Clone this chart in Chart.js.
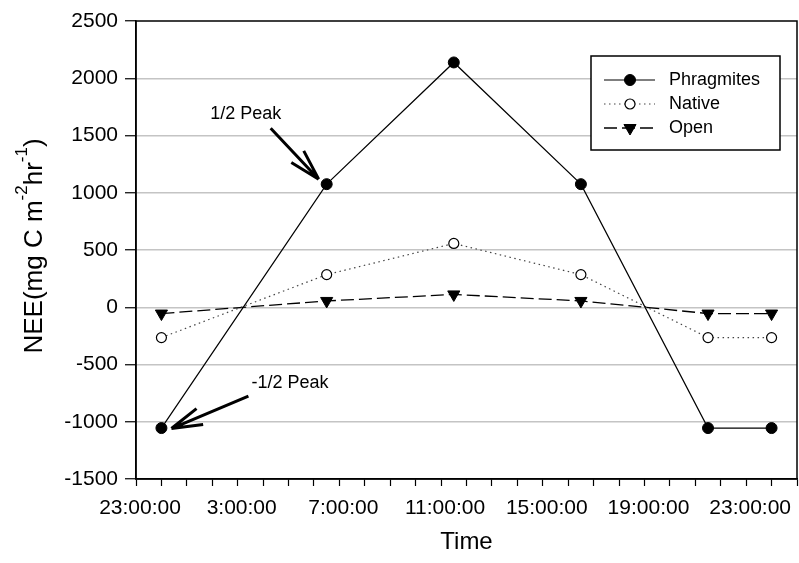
<!DOCTYPE html>
<html>
<head>
<meta charset="utf-8">
<script src="https://cdn.jsdelivr.net/npm/chart.js@4.4.1/dist/chart.umd.min.js"></script>
<style>
  html, body { margin: 0; padding: 0; background: #fff; }
  canvas { display: block; }
</style>
</head>
<body>
<canvas id="neeChart" width="799" height="563"></canvas>
<script>
// horas contadas a partir das 23:00 do primeiro dia
const tempos = [1, 7.5, 12.5, 17.5, 22.5, 25];
const phragmites = [-1055, 1075, 2138, 1075, -1055, -1055];
const nativa = [-265, 285, 557, 285, -265, -265];
const aberta = [-55, 55, 112, 55, -55, -55];
const nomesSeries = ['Phragmites', 'Native', 'Open'];
const rotulosTempo = ['23:00:00', '3:00:00', '7:00:00', '11:00:00', '15:00:00', '19:00:00', '23:00:00'];

const FONTE = '"Liberation Sans", Arial, sans-serif';

const pontos = valores => tempos.map((t, i) => ({ x: t, y: valores[i] }));

// moldura em volta da area do grafico
const moldura = {
    id: 'moldura',
    afterDraw(chart) {
        const { ctx, chartArea: a } = chart;
        ctx.save();
        ctx.strokeStyle = '#000';
        ctx.lineWidth = 1.5;
        ctx.strokeRect(a.left, a.top, a.right - a.left, a.bottom - a.top);
        ctx.restore();
    }
};

// setas "1/2 Peak" e "-1/2 Peak"
function seta(ctx, x0, y0, x1, y1) {
    const ang = Math.atan2(y0 - y1, x0 - x1);
    ctx.beginPath();
    ctx.moveTo(x0, y0);
    ctx.lineTo(x1, y1);
    [-0.27, 0.27].forEach(d => {
        ctx.moveTo(x1, y1);
        ctx.lineTo(x1 + Math.cos(ang + d) * 32, y1 + Math.sin(ang + d) * 32);
    });
    ctx.stroke();
}

const anotacoes = {
    id: 'anotacoes',
    afterDatasetsDraw(chart) {
        const { ctx, scales } = chart;
        const meio = { x: scales.x.getPixelForValue(tempos[1]), y: scales.y.getPixelForValue(phragmites[1]) };
        const inicio = { x: scales.x.getPixelForValue(tempos[0]), y: scales.y.getPixelForValue(phragmites[0]) };
        ctx.save();
        ctx.strokeStyle = '#000';
        ctx.fillStyle = '#000';
        ctx.lineWidth = 3;
        ctx.lineCap = 'butt';
        seta(ctx, meio.x - 56, meio.y - 56, meio.x - 8, meio.y - 5);
        seta(ctx, inicio.x + 87, inicio.y - 32, inicio.x + 10, inicio.y + 0.5);
        ctx.font = '18px ' + FONTE;
        ctx.textBaseline = 'middle';
        ctx.textAlign = 'center';
        ctx.fillText('1/2 Peak', meio.x - 81, meio.y - 70);
        ctx.textAlign = 'left';
        ctx.fillText('-1/2 Peak', inicio.x + 90, inicio.y - 45);
        ctx.restore();
    }
};

// legenda desenhada dentro do grafico
const legenda = {
    id: 'legenda',
    afterDraw(chart) {
        const ctx = chart.ctx;
        ctx.save();
        ctx.fillStyle = '#fff';
        ctx.fillRect(591, 56, 189, 94);
        ctx.strokeStyle = '#000';
        ctx.lineWidth = 1.5;
        ctx.strokeRect(591, 56, 189, 94);
        chart.data.datasets.forEach((ds, i) => {
            const yy = 80 + i * 24;
            ctx.strokeStyle = ds.borderColor;
            ctx.lineWidth = ds.borderWidth;
            ctx.setLineDash(ds.borderDash || []);
            ctx.beginPath();
            ctx.moveTo(604, yy);
            ctx.lineTo(655, yy);
            ctx.stroke();
            ctx.setLineDash([]);
            ctx.fillStyle = ds.pointBackgroundColor;
            ctx.strokeStyle = ds.pointBorderColor;
            ctx.lineWidth = ds.pointBorderWidth;
            Chart.helpers.drawPoint(ctx, {
                pointStyle: ds.pointStyle,
                rotation: ds.pointRotation || 0,
                radius: ds.pointRadius,
                borderWidth: ds.pointBorderWidth
            }, 630, yy);
            ctx.fillStyle = '#000';
            ctx.font = '18px ' + FONTE;
            ctx.textBaseline = 'middle';
            ctx.textAlign = 'left';
            ctx.fillText(ds.label, 669, yy);
        });
        ctx.restore();
    }
};

// titulo do eixo y com expoentes
const tituloY = {
    id: 'tituloY',
    afterDraw(chart) {
        const ctx = chart.ctx;
        const partes = [
            { t: 'NEE(mg C m', f: 26, dy: 0 },
            { t: '-2', f: 17, dy: -15 },
            { t: 'hr', f: 26, dy: 0 },
            { t: '-1', f: 17, dy: -15 },
            { t: ')', f: 26, dy: 0 }
        ];
        ctx.save();
        let total = 0;
        partes.forEach(p => {
            ctx.font = p.f + 'px ' + FONTE;
            p.w = ctx.measureText(p.t).width;
            total += p.w;
        });
        ctx.translate(42, 246);
        ctx.rotate(-Math.PI / 2);
        ctx.fillStyle = '#000';
        ctx.textBaseline = 'alphabetic';
        ctx.textAlign = 'left';
        let cx = -total / 2;
        partes.forEach(p => {
            ctx.font = p.f + 'px ' + FONTE;
            ctx.fillText(p.t, cx, p.dy);
            cx += p.w;
        });
        ctx.restore();
    }
};

document.addEventListener('DOMContentLoaded', () => {
    const ctx = document.getElementById('neeChart').getContext('2d');
    new Chart(ctx, {
        type: 'line',
        data: {
            datasets: [{
                label: nomesSeries[0],
                data: pontos(phragmites),
                borderColor: '#000',
                borderWidth: 1.2,
                pointStyle: 'circle',
                pointRadius: 5.5,
                pointBackgroundColor: '#000',
                pointBorderColor: '#000',
                pointBorderWidth: 1
            }, {
                label: nomesSeries[1],
                data: pontos(nativa),
                borderColor: '#444',
                borderWidth: 1.2,
                borderDash: [1.5, 3.5],
                pointStyle: 'circle',
                pointRadius: 5,
                pointBackgroundColor: '#fff',
                pointBorderColor: '#000',
                pointBorderWidth: 1.2
            }, {
                label: nomesSeries[2],
                data: pontos(aberta),
                borderColor: '#000',
                borderWidth: 1.3,
                borderDash: [13, 5],
                pointStyle: 'triangle',
                pointRotation: 180,
                pointRadius: 7,
                pointBackgroundColor: '#000',
                pointBorderColor: '#000',
                pointBorderWidth: 1
            }]
        },
        options: {
            responsive: false,
            animation: false,
            devicePixelRatio: 1,
            layout: { autoPadding: false, padding: { top: 21, right: 2, left: 0, bottom: 0 } },
            plugins: {
                legend: { display: false },
                tooltip: { enabled: false }
            },
            scales: {
                x: {
                    type: 'linear',
                    min: 0,
                    max: 26,
                    afterFit: s => {
                        s.height = 84;
                        s.paddingLeft = 0;
                        s.paddingRight = 0;
                    },
                    border: { display: true, color: '#000', width: 1.5 },
                    grid: {
                        drawOnChartArea: false,
                        drawTicks: true,
                        tickLength: 7,
                        tickColor: '#000',
                        tickWidth: 1.2
                    },
                    ticks: {
                        stepSize: 1,
                        autoSkip: false,
                        maxRotation: 0,
                        padding: 10,
                        labelOffset: 4,
                        color: '#000',
                        font: { family: FONTE, size: 21 },
                        callback: v => (v % 4 === 0 ? rotulosTempo[v / 4] : '')
                    },
                    title: {
                        display: true,
                        text: 'Time',
                        color: '#000',
                        font: { family: FONTE, size: 24 },
                        padding: { top: 0, bottom: 6 }
                    }
                },
                y: {
                    min: -1500,
                    max: 2500,
                    afterFit: s => { s.width = 136; },
                    border: { display: true, color: '#000', width: 1.5 },
                    grid: {
                        color: c => (c.tick && (c.tick.value === 2500 || c.tick.value === -1500) ? 'rgba(0,0,0,0)' : '#c4c4c4'),
                        lineWidth: 1.5,
                        tickLength: 11,
                        tickColor: '#000',
                        tickWidth: 1.2
                    },
                    ticks: {
                        stepSize: 500,
                        padding: 7,
                        color: '#000',
                        font: { family: FONTE, size: 21 },
                        callback: v => String(v)
                    }
                }
            }
        },
        plugins: [moldura, anotacoes, legenda, tituloY]
    });
});
</script>
</body>
</html>
